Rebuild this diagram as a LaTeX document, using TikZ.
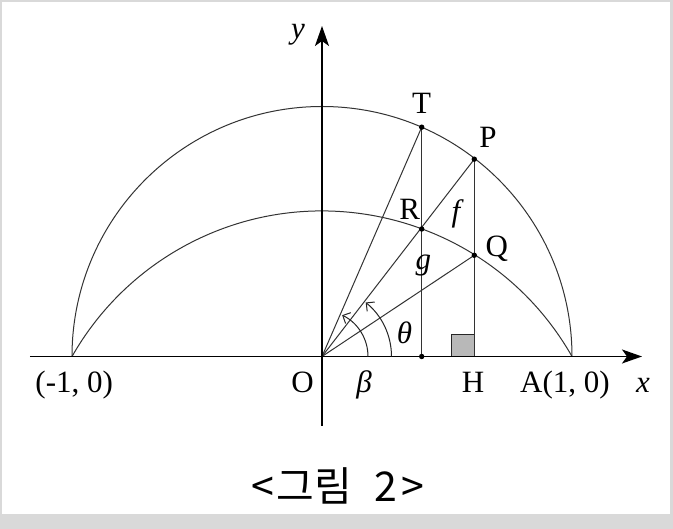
\documentclass[tikz,border=0pt]{standalone}
\usepackage{fontspec}
\setmainfont{Liberation Serif}
\newfontfamily\krfont{Noto Sans CJK KR}
\usetikzlibrary{arrows.meta}
\begin{document}
\begin{tikzpicture}[x=1pt,y=1pt,
  lbl/.style={font=\fontsize{31}{36}\selectfont, inner sep=0pt},
  ilbl/.style={font=\fontsize{31}{36}\selectfont\itshape, inner sep=0pt},
  geo/.style={line width=1pt, draw=black!80},
  axis/.style={line width=1.4pt, draw=black, -{Stealth[length=20pt,width=14pt,inset=5pt]}},
  dotmark/.style={fill=black},
  angarrow/.style={line width=1pt, draw=black!85, -{Straight Barb[length=6pt,width=12pt]}}]
% frame
\useasboundingbox (-322,-172.5) rectangle (351,356.5);
\fill[gray!30] (-322,-172.5) rectangle (351,356.5);
\fill[white] (-319.5,-158) rectangle (347.5,354.5);
% points
\coordinate (O) at (0,0);
\coordinate (A) at (250,0);
\coordinate (Am) at (-250,0);
\coordinate (P) at (152.3,197.3);
\coordinate (H) at (152.3,0);
\coordinate (Q) at (152.3,101.2);
\coordinate (R) at (99.7,127.5);
\coordinate (T) at (99.7,229.3);
\coordinate (F) at (99.7,0);
\coordinate (xs) at (-292,0);
\coordinate (xe) at (320,0);
\coordinate (ys) at (0,-69.5);
\coordinate (ye) at (0,330.5);
% square
\filldraw[fill=black!28, draw=black!85, line width=1pt] (130,0) rectangle (152.3,22.2);
% arcs
\draw[geo] (A) arc[start angle=0, end angle=180, radius=250];
\draw[geo] (A) arc[start angle=29.59, end angle=150.41, radius=287.5];
% lines
\draw[geo] (O) -- (T);
\draw[geo] (O) -- (P);
\draw[geo] (O) -- (Q);
\draw[geo] (T) -- (F);
\draw[geo] (P) -- (H);
% axes
\draw[axis] (xs) -- (xe);
\draw[axis] (ys) -- (ye);
% angle arcs
\draw[angarrow] (46,0) arc[start angle=0, end angle=64, radius=46];
\draw[angarrow] (69.5,0) arc[start angle=0, end angle=51, radius=69.5];
% dots
\foreach \p in {T,P,R,Q,F} \fill[dotmark] (\p) circle (2.7pt);
% labels
\node[ilbl] (ly) at (-24,321.8) {y};
\node[lbl] (lT) at (99.6,253.5) {T};
\node[lbl] (lP) at (166,219.5) {P};
\node[lbl] (lR) at (87.7,147.5) {R};
\node[ilbl] (lf) at (134,142.5) {f};
\node[lbl] (lQ) at (174.7,108.2) {Q};
\node[ilbl] (lg) at (101.3,91.2) {g};
\node[ilbl] (lth) at (82.5,23.5) {θ};
\node[lbl, anchor=base] (lAm) at (-247.8,-36.3) {(-1, 0)};
\node[lbl, anchor=base] (lO) at (-19.5,-36.3) {O};
\node[ilbl, anchor=base] (lb) at (42,-36.3) {β};
\node[lbl, anchor=base] (lH) at (151,-36.3) {H};
\node[lbl, anchor=base] (lA) at (243,-36.3) {A(1, 0)};
\node[ilbl, anchor=base] (lx) at (321,-36.3) {x};
\node[font=\krfont\fontsize{41}{44}\selectfont, inner sep=0pt] (cap) at (15.5,-129.5) {<\hspace{3pt}그림\hspace{22pt}2\hspace{4pt}>};
\end{tikzpicture}
\end{document}
